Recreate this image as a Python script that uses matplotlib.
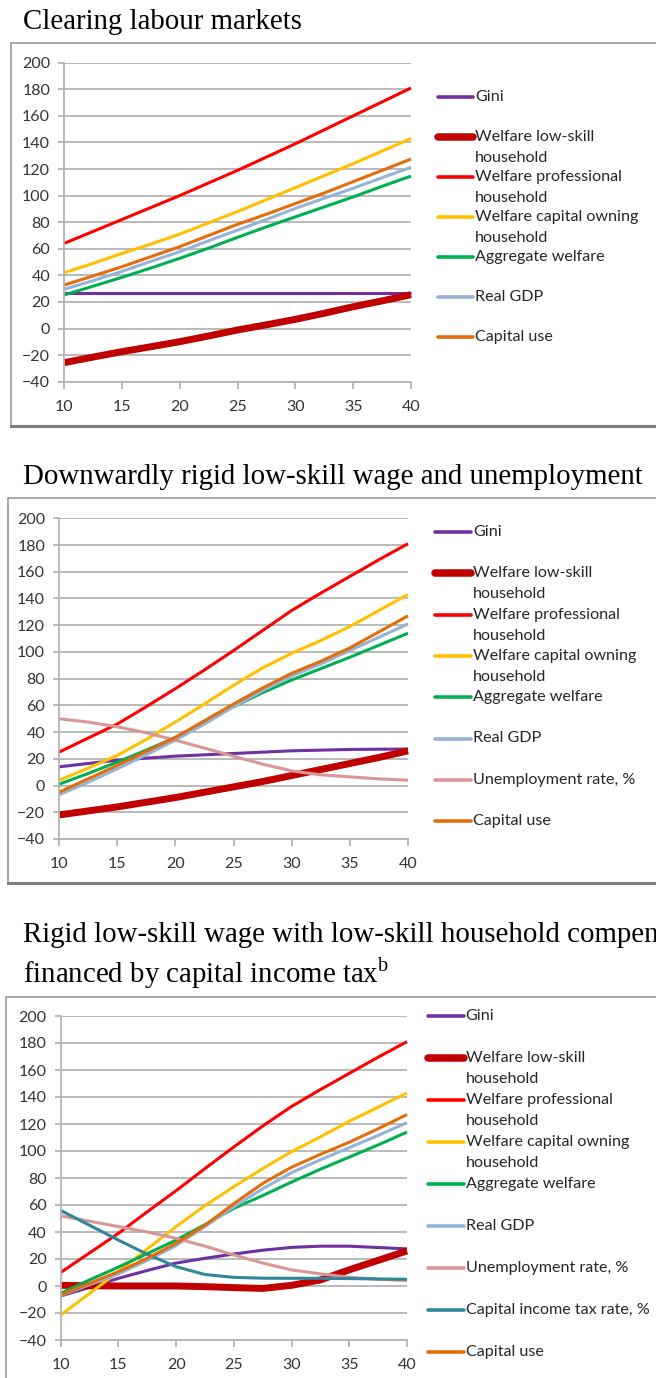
import matplotlib
matplotlib.use("Agg")
import matplotlib.pyplot as plt
from matplotlib.patches import Rectangle
from matplotlib.lines import Line2D

plt.rcParams["mathtext.fontset"] = "custom"
plt.rcParams["mathtext.rm"] = "Liberation Serif"

# ---- data ----
years = [10, 12.5, 15, 17.5, 20, 22.5, 25, 27.5, 30, 32.5, 35, 37.5, 40]

# panel 1: clearing labour markets
p1_gini      = [27, 27, 27, 27, 27, 27, 27, 27, 27, 27, 27, 27, 27]
p1_lowskill  = [-25.7, -21.5, -17.4, -13.7, -9.9, -5.6, -1.1, 2.8, 6.9, 11.5, 16.4, 20.8, 25.5]
p1_prof      = [64, 73, 82, 91, 100, 109.5, 119, 129, 139, 149.5, 160, 170.5, 181]
p1_capital   = [42, 49, 56.5, 63.5, 71, 79.5, 88, 97, 106, 115, 124, 133.5, 143]
p1_aggregate = [25.2, 31.8, 38.5, 45.5, 52.8, 60.5, 68.6, 76.5, 84, 91.5, 99, 107, 114.7]
p1_gdp       = [29.5, 36, 43, 50.5, 57.8, 66, 74, 82, 90.4, 98, 105.5, 113.5, 121.3]
p1_capuse    = [32.7, 39.5, 46.5, 54, 61.6, 70, 78.4, 86, 94, 102, 110.5, 119, 127.5]

# panel 2: downwardly rigid low-skill wage
p2_gini      = [14, 16.5, 19, 20.5, 22, 23, 24, 25, 26, 26.5, 27, 27.2, 27.3]
p2_lowskill  = [-22, -19, -16, -12.5, -9, -5, -1, 3, 7.5, 12, 16.5, 21, 26]
p2_prof      = [25, 35.5, 46, 59, 72.5, 86.5, 101, 116, 131, 144, 156.5, 169, 181]
p2_capital   = [4, 13, 22.5, 34.5, 47.5, 61, 75, 88, 99, 108.5, 119, 131, 143]
p2_aggregate = [1, 9, 17.5, 26.5, 36, 47, 59, 69.5, 79, 87.5, 96, 105, 114]
p2_gdp       = [-7, 2.5, 12.5, 23, 34, 46, 59, 71, 82, 91, 101, 111, 121]
p2_unemp     = [50, 47.5, 44, 39.5, 34, 28, 22, 16, 11, 8, 6.5, 5, 4]
p2_capuse    = [-5, 5, 15, 25.5, 36, 48.5, 61, 73, 84, 93, 103, 115, 127]

# panel 3: rigid wage with compensation financed by capital income tax
p3_gini      = [-7.4, -1, 5.7, 11.5, 17, 20.5, 23.7, 26.5, 28.6, 29.5, 29.5, 28.5, 27.5]
p3_lowskill  = [0.5, 0.2, 0, 0, 0, -0.5, -1.2, -1.8, 0.5, 4.5, 12, 19, 26]
p3_prof      = [10, 24.5, 39, 55, 70.6, 87, 103, 118.5, 133, 145.5, 157.5, 169.5, 181]
p3_capital   = [-21.5, -5.5, 10.6, 27.5, 44, 59.5, 73.6, 87, 99.5, 110.5, 122, 132.5, 143]
p3_aggregate = [-5.4, 4.5, 14, 24, 34, 45.5, 57.5, 67, 77, 86.5, 95.5, 104.5, 114]
p3_gdp       = [-7, 1, 9, 19, 30, 44, 58.7, 72, 84, 93.5, 102.5, 111.5, 121]
p3_unemp     = [52, 48, 44, 40, 35.3, 29.5, 23, 17, 11.9, 9, 6.5, 5, 4]
p3_captax    = [56, 45, 34, 23.5, 14.3, 8.5, 6.4, 5.8, 5.7, 5.7, 5.5, 5.2, 5]
p3_capuse    = [-6.7, 2, 10.6, 20.5, 31.6, 45, 61, 76, 88, 97.5, 106.5, 116.5, 127]

x_ticks = [10, 15, 20, 25, 30, 35, 40]
y_ticks = list(range(-40, 201, 20))

# series style: label, colour, linewidth
STYLE = {
    "gini":      ("Gini", "#7030A0", 2.2),
    "lowskill":  ("Welfare low-skill\nhousehold", "#C00000", 5.0),
    "prof":      ("Welfare professional\nhousehold", "#FF0000", 2.2),
    "capital":   ("Welfare capital owning\nhousehold", "#FFC000", 2.2),
    "aggregate": ("Aggregate welfare", "#00B050", 2.2),
    "gdp":       ("Real GDP", "#95B3D7", 2.2),
    "unemp":     ("Unemployment rate, %", "#D99694", 2.2),
    "captax":    ("Capital income tax rate, %", "#31859C", 2.2),
    "capuse":    ("Capital use", "#E46C0A", 2.2),
}

panels = [
    {
        "title": ["Clearing labour markets"],
        "title_y": [22],
        "frame": (10.5, 43.3, 426),
        "plot": (64, 62.7, 411, 381.7),
        "series": [("gini", p1_gini), ("lowskill", p1_lowskill), ("prof", p1_prof),
                   ("capital", p1_capital), ("aggregate", p1_aggregate),
                   ("gdp", p1_gdp), ("capuse", p1_capuse)],
        "legend": (438, 473, 97, 40),
    },
    {
        "title": ["Downwardly rigid low-skill wage and unemployment"],
        "title_y": [477],
        "frame": (8.4, 498.3, 883.3),
        "plot": (59, 518.3, 408, 839),
        "series": [("gini", p2_gini), ("lowskill", p2_lowskill), ("prof", p2_prof),
                   ("capital", p2_capital), ("aggregate", p2_aggregate),
                   ("gdp", p2_gdp), ("unemp", p2_unemp), ("capuse", p2_capuse)],
        "legend": (435, 471, 532, 41.3),
    },
    {
        "title": ["Rigid low-skill wage with low-skill household compensation",
                  "financed by capital income tax$^{\\mathrm{b}}$"],
        "title_y": [935, 973],
        "frame": (6.3, 996.7, 1420),
        "plot": (60.7, 1016, 407, 1340),
        "series": [("gini", p3_gini), ("lowskill", p3_lowskill), ("prof", p3_prof),
                   ("capital", p3_capital), ("aggregate", p3_aggregate),
                   ("gdp", p3_gdp), ("unemp", p3_unemp), ("captax", p3_captax),
                   ("capuse", p3_capuse)],
        "legend": (427.6, 463.6, 1016, 41.95),
    },
]

W, H = 656, 1378
fig = plt.figure(figsize=(W / 100, H / 100), dpi=100)
fig.patch.set_facecolor("white")

TICK_FONT = "Lato"
GRID = "#B4B4B4"

for p in panels:
    # title
    for line, ty in zip(p["title"], p["title_y"]):
        fig.text(23 / W, 1 - ty / H, line, fontsize=20.8, family="Liberation Serif",
                 va="center", ha="left", color="black")

    # chart frame
    fx, ftop, fbot = p["frame"]
    fig.add_artist(Rectangle((fx / W, 1 - fbot / H), (W + 50 - fx) / W, (fbot - ftop) / H,
                             transform=fig.transFigure, facecolor="none",
                             edgecolor="#9A9A9A", lw=1.2))
    fig.add_artist(Line2D([fx / W, 1.05], [1 - fbot / H, 1 - fbot / H],
                          transform=fig.transFigure, color="#7F7F7F", lw=2.2))

    x0, y0, x1, y1 = p["plot"]
    ax = fig.add_axes([x0 / W, 1 - y1 / H, (x1 - x0) / W, (y1 - y0) / H])
    ax.set_facecolor("none")
    ax.set_xlim(10, 40)
    ax.set_ylim(-40, 200)
    ax.set_xticks(x_ticks)
    ax.set_yticks(y_ticks)
    ax.yaxis.grid(True, color=GRID, lw=1.3)
    ax.set_axisbelow(True)
    for s in ["top", "right"]:
        ax.spines[s].set_visible(False)
    for s in ["left", "bottom"]:
        ax.spines[s].set_color(GRID)
        ax.spines[s].set_linewidth(1.3)
    ax.tick_params(axis="both", colors=GRID, width=1.3, labelcolor="#333333",
                   labelsize=11.5)
    ax.tick_params(axis="y", length=4, pad=6)
    ax.tick_params(axis="x", length=5, pad=8)
    for lab in ax.get_xticklabels() + ax.get_yticklabels():
        lab.set_family(TICK_FONT)

    for key, vals in p["series"]:
        label, color, lw = STYLE[key]
        ax.plot(years, vals, color=color, lw=lw, solid_capstyle="butt",
                solid_joinstyle="round", clip_on=False)

    # legend drawn to the right of the plot
    hx0, hx1, ly, step = p["legend"]
    for i, (key, _) in enumerate(p["series"]):
        label, color, lw = STYLE[key]
        yy = ly + i * step
        fig.add_artist(Line2D([hx0 / W, hx1 / W], [1 - yy / H, 1 - yy / H],
                              transform=fig.transFigure, color=color,
                              lw=lw + 0.4, solid_capstyle="round"))
        for k, part in enumerate(label.split("\n")):
            fig.text((hx1 + 2) / W, 1 - (yy + k * 21) / H, part, family=TICK_FONT,
                     fontsize=11.6, va="center", ha="left", color="#262626")

fig.savefig("out.png", dpi=100)
